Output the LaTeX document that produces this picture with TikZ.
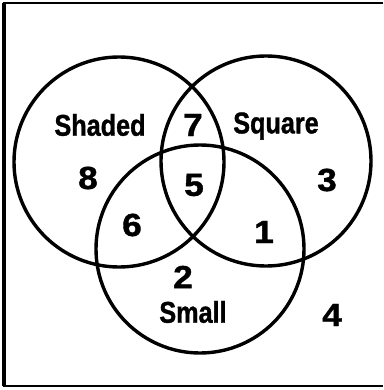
\documentclass[tikz,border=0pt]{standalone}
\usepackage{fontspec}
\setmainfont{Liberation Sans}
\newfontfamily\lblfont[FakeBold=1.2]{Liberation Sans Bold}
\tikzset{
  venn/.style={draw=black, line width=3.4pt},
  frameline/.style={draw=black, line width=2pt},
  lbl/.style={inner sep=0pt, font=\lblfont\fontsize{30}{30}\selectfont},
  num/.style={inner sep=0pt, font=\lblfont\fontsize{32}{32}\selectfont}
}
\newcommand{\nar}[1]{\scalebox{0.84}[1]{#1}}
\newcommand{\wid}[1]{\scalebox{1.1}[1]{#1}}
\begin{document}
\begin{tikzpicture}[x=1pt,y=-1pt]
\useasboundingbox (0,0) rectangle (383,390);
\fill[white] (0,0) rectangle (383,390);
\draw[frameline] (383,3) -- (4,3) -- (4,386) -- (383,386);
\draw[venn, line width=3.5pt] (4,3) -- (4,386);
\node[venn, circle, minimum size=210pt, inner sep=0pt] (shaded) at (119,162) {};
\node[venn, circle, minimum size=210pt, inner sep=0pt] (square) at (266,161) {};
\node[venn, circle, minimum size=208pt, inner sep=0pt] (small) at (200,249) {};
\node[lbl] (tShaded) at (100,125) {\nar{Shaded}};
\node[lbl] (tSquare) at (276,126) {\nar{Square}};
\node[lbl] (tSmall) at (193,312) {\nar{Small}};
\node[num] (n7) at (193,125) {\wid{7}};
\node[num] (n8) at (88,178) {\wid{8}};
\node[num] (n5) at (194,185) {\wid{5}};
\node[num] (n3) at (327,180) {\wid{3}};
\node[num] (n6) at (132,225) {\wid{6}};
\node[num] (n1) at (264,232) {\wid{1}};
\node[num] (n2) at (183,277) {\wid{2}};
\node[num] (n4) at (332,315) {\wid{4}};
\end{tikzpicture}
\end{document}
